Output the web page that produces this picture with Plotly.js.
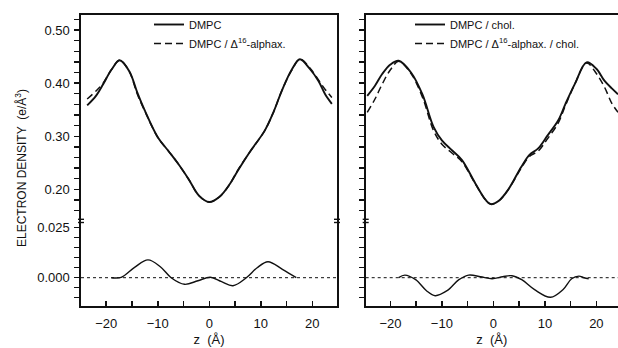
<!DOCTYPE html>
<html><head><meta charset="utf-8">
<script src="https://cdn.plot.ly/plotly-3.0.1.min.js"></script>
<style>html,body{margin:0;padding:0;background:#fff}#chart{width:618px;height:348px}</style>
</head><body><div id="chart"></div>
<script>
// ---- Left panel, upper part: electron density profiles ----
const zL = [-23.7, -22.0, -20.6, -19.0, -17.4, -15.5, -14.0, -12.5, -10.0, -8.0, -6.1, -4.0, -2.0, 0.0, 2.0, 4.0, 5.6, 8.0, 10.8, 12.5, 14.1, 16.0, 17.6, 19.5, 21.2, 22.5, 23.8];
const rhoDMPC = [0.358, 0.376, 0.398, 0.425, 0.443, 0.422, 0.383, 0.348, 0.298, 0.273, 0.249, 0.219, 0.188, 0.176, 0.186, 0.210, 0.236, 0.272, 0.311, 0.346, 0.386, 0.425, 0.445, 0.427, 0.404, 0.379, 0.361];
const rhoDMPCAlphax = [0.370, 0.385, 0.400, 0.425, 0.443, 0.421, 0.380, 0.347, 0.298, 0.273, 0.249, 0.219, 0.188, 0.176, 0.186, 0.210, 0.237, 0.272, 0.311, 0.346, 0.386, 0.424, 0.445, 0.429, 0.406, 0.388, 0.373];

// ---- Right panel, upper part ----
const zR = [-24.5, -23.0, -21.6, -20.0, -18.4, -16.0, -13.8, -11.6, -10.0, -8.0, -6.1, -3.5, -1.5, -0.5, 1.0, 2.85, 5.4, 7.0, 8.7, 10.5, 12.6, 14.0, 15.8, 18.1, 20.0, 21.6, 23.0, 24.2];
const rhoChol = [0.376, 0.395, 0.417, 0.435, 0.442, 0.420, 0.379, 0.317, 0.292, 0.273, 0.255, 0.211, 0.180, 0.172, 0.178, 0.199, 0.242, 0.265, 0.277, 0.301, 0.330, 0.361, 0.398, 0.439, 0.427, 0.404, 0.390, 0.379];
const rhoAlphaxChol = [0.345, 0.370, 0.398, 0.425, 0.441, 0.418, 0.374, 0.310, 0.285, 0.268, 0.252, 0.210, 0.180, 0.172, 0.178, 0.199, 0.240, 0.262, 0.272, 0.295, 0.325, 0.358, 0.398, 0.438, 0.418, 0.392, 0.362, 0.345];

// ---- Lower parts: difference profiles ----
const zDiffL = [-19.0, -17.1, -14.5, -11.9, -9.5, -7.4, -4.8, -2.2, 0.2, 2.4, 4.6, 7.2, 9.3, 11.4, 14.2, 16.9];
const diffL = [0.0, 0.0002, 0.0052, 0.0089, 0.0055, 0.0, -0.0033, -0.0015, 0.0002, -0.0020, -0.0040, 0.0, 0.0050, 0.0080, 0.0042, 0.0];
const zDiffR = [-18.4, -17.2, -15.1, -13.0, -11.3, -9.0, -6.7, -4.8, -2.5, -0.25, 1.8, 3.6, 5.5, 8.0, 11.1, 13.5, 15.2, 16.6, 17.6, 18.5];
const diffR = [0.0, 0.0013, -0.0010, -0.0065, -0.0090, -0.0065, -0.0010, 0.0013, 0.0005, -0.0005, 0.0005, 0.0010, -0.0010, -0.0060, -0.0098, -0.0060, -0.0005, 0.0008, 0.0, -0.0005];

// ---- Tick values and labels ----
const xTickVals = [-20, -15, -10, -5, 0, 5, 10, 15, 20];
const xTickText = ['\u221220', '', '\u221210', '', '0', '', '10', '', '20'];
const yUpTickVals = [0.16, 0.18, 0.20, 0.22, 0.24, 0.26, 0.28, 0.30, 0.32, 0.34, 0.36, 0.38, 0.40, 0.42, 0.44, 0.46, 0.48, 0.50, 0.52];
const yUpTickText = ['', '', '0.20', '', '', '', '', '0.30', '', '', '', '', '0.40', '', '', '', '', '0.50', ''];
const yLowTickVals = [-0.010, -0.005, 0.000, 0.005, 0.010, 0.015, 0.020, 0.025];
const yLowTickText = ['', '', '0.000', '', '', '', '', '0.025'];

const names = ['DMPC', 'DMPC / \u0394<sup>16</sup>-alphax.', 'DMPC / chol.', 'DMPC / \u0394<sup>16</sup>-alphax. / chol.'];

const INK = '#111111';
const FONT = 'Liberation Sans, Arial, Helvetica, sans-serif';
const solid = {color: INK, width: 1.9, shape: 'spline'};
const dashed = {color: INK, width: 1.5, dash: '7px,4px', shape: 'spline'};
const thin = {color: INK, width: 1.4, shape: 'spline'};

const traces = [
  {x: zL, y: rhoDMPC, xaxis: 'x3', yaxis: 'y3', mode: 'lines', line: solid, name: names[0], legend: 'legend'},
  {x: zL, y: rhoDMPCAlphax, xaxis: 'x3', yaxis: 'y3', mode: 'lines', line: dashed, name: names[1], legend: 'legend'},
  {x: zR, y: rhoChol, xaxis: 'x4', yaxis: 'y4', mode: 'lines', line: solid, name: names[2], legend: 'legend2'},
  {x: zR, y: rhoAlphaxChol, xaxis: 'x4', yaxis: 'y4', mode: 'lines', line: dashed, name: names[3], legend: 'legend2'},
  {x: zDiffL, y: diffL, xaxis: 'x', yaxis: 'y', mode: 'lines', line: thin, showlegend: false},
  {x: zDiffR, y: diffR, xaxis: 'x2', yaxis: 'y2', mode: 'lines', line: thin, showlegend: false}
];

// geometry (pixels)
const W = 618, H = 348, L = 81, T = 15, B = 42, R = 0;
const pw = W - L - R, ph = H - T - B;
const px2x = p => (p - L) / pw;
const py2y = p => (H - B - p) / ph;
const splitY = py2y(220.7);
const domL = [0, px2x(337)];
const domR = [px2x(365.7), 1];

const tickFont = {family: FONT, size: 13, color: INK};
const xBase = {
  showline: true, linecolor: INK, linewidth: 1.6,
  ticks: 'inside', ticklen: 5, tickwidth: 1.5, tickcolor: INK,
  tickmode: 'array', tickvals: xTickVals, ticktext: xTickText,
  tickfont: tickFont, ticklabelstandoff: 5, zeroline: false, showgrid: false,
  title: {text: 'z\u00a0\u00a0(\u00c5)', font: {family: FONT, size: 13, color: INK}, standoff: 4}
};
const xTop = {showline: true, linecolor: INK, linewidth: 1.6, side: 'top', ticks: '', showticklabels: false, zeroline: false, showgrid: false};
const yUp = {
  range: [0.1409, 0.5282], showline: true, linecolor: INK, linewidth: 1.6,
  ticks: 'outside', ticklen: 5, tickwidth: 1.4, tickcolor: INK,
  tickmode: 'array', tickvals: yUpTickVals, ticktext: yUpTickText,
  tickfont: tickFont, ticklabelstandoff: 2, zeroline: false, showgrid: false
};
const yLow = {
  range: [-0.01415, 0.0285], showline: true, linecolor: INK, linewidth: 1.6,
  ticks: 'outside', ticklen: 5, tickwidth: 1.4, tickcolor: INK,
  tickmode: 'array', tickvals: yLowTickVals, ticktext: yLowTickText,
  tickfont: tickFont, ticklabelstandoff: 2, zeroline: false, showgrid: false
};

function brk(pxX) {
  const s = [];
  [219.3, 222.5].forEach(py => s.push({type: 'line', xref: 'paper', yref: 'paper',
    x0: px2x(pxX - 3), x1: px2x(pxX + 3), y0: py2y(py), y1: py2y(py),
    line: {color: INK, width: 1.4}}));
  return s;
}

const legendFont = {family: FONT, size: 11, color: INK};
const layout = {
  width: W, height: H, margin: {l: L, r: R, t: T, b: B},
  paper_bgcolor: '#fff', plot_bgcolor: 'rgba(0,0,0,0)',
  font: {family: FONT, color: INK},
  xaxis: Object.assign({}, xBase, {domain: domL, range: [-24.9, 24.8], anchor: 'y'}),
  xaxis2: Object.assign({}, xBase, {domain: domR, range: [-24.8, 24.2], anchor: 'y2'}),
  xaxis3: Object.assign({}, xTop, {domain: domL, range: [-24.9, 24.8], anchor: 'y3', matches: 'x'}),
  xaxis4: Object.assign({}, xTop, {domain: domR, range: [-24.8, 24.2], anchor: 'y4', matches: 'x2'}),
  yaxis: Object.assign({}, yLow, {domain: [0, splitY], anchor: 'x', mirror: true}),
  yaxis2: Object.assign({}, yLow, {domain: [0, splitY], anchor: 'x2', showticklabels: false}),
  yaxis3: Object.assign({}, yUp, {domain: [splitY, 1], anchor: 'x3', mirror: true}),
  yaxis4: Object.assign({}, yUp, {domain: [splitY, 1], anchor: 'x4', showticklabels: false}),
  legend: {x: px2x(149), y: 1 + 5 / ph, xanchor: 'left', yanchor: 'top', bgcolor: 'rgba(0,0,0,0)',
           font: legendFont, borderwidth: 0, tracegroupgap: 0},
  legend2: {x: px2x(410), y: 1 + 5 / ph, xanchor: 'left', yanchor: 'top', bgcolor: 'rgba(0,0,0,0)',
           font: legendFont, borderwidth: 0, tracegroupgap: 0},
  shapes: [
    {type: 'line', xref: 'x domain', yref: 'y', x0: 0, x1: 1, y0: 0, y1: 0, line: {color: INK, width: 1, dash: 'dot'}},
    {type: 'line', xref: 'x2 domain', yref: 'y2', x0: 0, x1: 1, y0: 0, y1: 0, line: {color: INK, width: 1, dash: 'dot'}}
  ].concat(brk(81), brk(337), brk(365.7)),
  annotations: [
    {text: 'ELECTRON DENSITY\u00a0\u00a0(e/\u00c5<sup>3</sup>)', xref: 'paper', yref: 'paper',
     x: px2x(21), y: py2y(168), xanchor: 'center', yanchor: 'middle', textangle: -90,
     showarrow: false, font: {family: FONT, size: 12, color: INK}}
  ]
};

Plotly.newPlot('chart', traces, layout, {displayModeBar: false, staticPlot: true});
</script>
</body></html>
